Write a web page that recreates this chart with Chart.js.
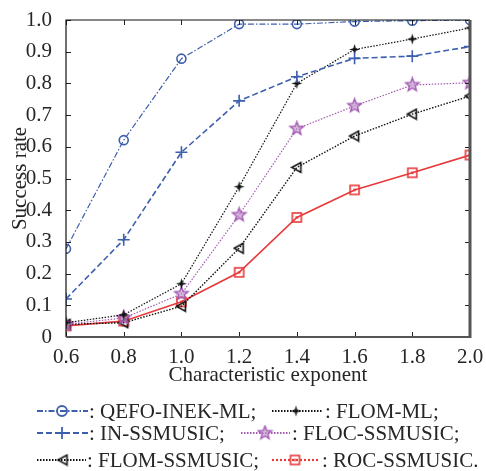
<!DOCTYPE html>
<html>
<head>
<meta charset="utf-8">
<script src="https://cdn.jsdelivr.net/npm/chart.js@4/dist/chart.umd.min.js"></script>
<style>
  html, body { margin: 0; padding: 0; background: #fff; }
  #wrap { width: 486px; height: 471px; position: relative; }
</style>
</head>
<body>
<div id="wrap"><canvas id="myChart" width="486" height="471"></canvas></div>
<script>
// data
const exponents = [0.6, 0.8, 1.0, 1.2, 1.4, 1.6, 1.8, 2.0];
const yTicks = [0, 0.1, 0.2, 0.3, 0.4, 0.5, 0.6, 0.7, 0.8, 0.9, 1.0];
const qefoInek = [0.278, 0.621, 0.878, 0.987, 0.987, 0.995, 0.998, 1.0];
const inSsmusic = [0.12, 0.307, 0.583, 0.745, 0.821, 0.879, 0.886, 0.916];
const flomMl = [0.045, 0.07, 0.168, 0.474, 0.80, 0.907, 0.94, 0.975];
const flocSsmusic = [0.04, 0.06, 0.136, 0.385, 0.657, 0.729, 0.795, 0.802];
const flomSsmusic = [0.04, 0.045, 0.097, 0.28, 0.535, 0.634, 0.703, 0.76];
const rocSsmusic = [0.035, 0.05, 0.111, 0.204, 0.377, 0.464, 0.518, 0.574];

const FONT = '"Liberation Serif", "Times New Roman", serif';
const BLUE = '#3d5fae';
const PURPLE = '#a35bb3';
const RED = '#e8393a';
const BLACK = '#111';
const TEXT = '#262626';

// small marker canvases
function makeMarker(size, drawFn) {
  const c = document.createElement('canvas');
  c.width = size; c.height = size;
  drawFn(c.getContext('2d'), size / 2);
  return c;
}
function starPath(g, c, n, ro, ri) {
  g.beginPath();
  for (let i = 0; i < n * 2; i++) {
    const r = i % 2 === 0 ? ro : ri;
    const a = -Math.PI / 2 + i * Math.PI / n;
    const px = c + r * Math.cos(a), py = c + r * Math.sin(a);
    if (i === 0) g.moveTo(px, py); else g.lineTo(px, py);
  }
  g.closePath();
}
const star4 = makeMarker(13, function(g, c) {
  starPath(g, c, 4, 5.5, 1.8);
  g.fillStyle = BLACK; g.fill();
});
const star5 = makeMarker(17, function(g, c) {
  starPath(g, c, 5, 7, 3);
  g.fillStyle = 'rgba(190,140,200,0.6)'; g.fill();
  g.strokeStyle = PURPLE; g.lineWidth = 1.4; g.stroke();
});
const triLeft = makeMarker(13, function(g, c) {
  g.beginPath();
  g.moveTo(c - 5, c); g.lineTo(c + 4, c - 5); g.lineTo(c + 4, c + 5); g.closePath();
  g.strokeStyle = BLACK; g.lineWidth = 1.6; g.stroke();
});
const sqDot = makeMarker(13, function(g, c) {
  g.strokeStyle = RED; g.lineWidth = 1.6;
  g.strokeRect(c - 4.5, c - 4.5, 9, 9);
  g.fillStyle = RED; g.fillRect(c - 1.2, c - 1.2, 2.4, 2.4);
});

function pts(arr) {
  return arr.map(function(v, i) { return { x: exponents[i], y: v }; });
}

const series = [
  { label: 'QEFO-INEK-ML;', data: qefoInek, color: BLUE, dash: [6, 2, 1.5, 2], width: 1.2, style: 'circle', radius: 4.5 },
  { label: 'IN-SSMUSIC;', data: inSsmusic, color: BLUE, dash: [6, 3], width: 1.6, style: 'cross', radius: 6 },
  { label: 'FLOM-ML;', data: flomMl, color: BLACK, dash: [1.5, 1.5], width: 1.2, style: star4, radius: 6 },
  { label: 'FLOC-SSMUSIC;', data: flocSsmusic, color: PURPLE, dash: [1.5, 1.5], width: 1.2, style: star5, radius: 7 },
  { label: 'FLOM-SSMUSIC;', data: flomSsmusic, color: BLACK, dash: [1.5, 1.5], width: 1.4, style: triLeft, radius: 6 },
  { label: 'ROC-SSMUSIC.', data: rocSsmusic, color: RED, dash: [], width: 1.6, style: sqDot, radius: 6 }
];

// box with inward ticks
const frame = {
  id: 'frame',
  afterDatasetsDraw(chart) {
    const g = chart.ctx, a = chart.chartArea;
    const xs = chart.scales.x, ys = chart.scales.y;
    g.save();
    g.strokeStyle = '#222'; g.lineWidth = 1;
    exponents.forEach(function(v) {
      const px = Math.round(xs.getPixelForValue(v)) + 0.5;
      g.beginPath(); g.moveTo(px, a.bottom); g.lineTo(px, a.bottom - 5); g.stroke();
      g.beginPath(); g.moveTo(px, a.top); g.lineTo(px, a.top + 5); g.stroke();
    });
    yTicks.forEach(function(v) {
      const py = Math.round(ys.getPixelForValue(v)) + 0.5;
      g.beginPath(); g.moveTo(a.left, py); g.lineTo(a.left + 5, py); g.stroke();
      g.beginPath(); g.moveTo(a.right, py); g.lineTo(a.right - 5, py); g.stroke();
    });
    g.strokeStyle = '#111'; g.lineWidth = 1.2;
    g.beginPath(); g.moveTo(a.left, a.bottom); g.lineTo(a.left, a.top); g.lineTo(a.right, a.top); g.stroke();
    g.strokeStyle = '#555'; g.lineWidth = 3;
    g.beginPath(); g.moveTo(a.right, a.top); g.lineTo(a.right, a.bottom + 1); g.stroke();
    g.lineWidth = 2;
    g.beginPath(); g.moveTo(a.left, a.bottom); g.lineTo(a.right, a.bottom); g.stroke();
    g.restore();
  }
};

// two-column legend under the axis title
const legendSpots = [
  { x0: 37, x1: 88, mx: 62, tx: 89, y: 411 },
  { x0: 37, x1: 88, mx: 62, tx: 89, y: 433 },
  { x0: 272, x1: 323, mx: 296, tx: 325, y: 411 },
  { x0: 241, x1: 290, mx: 265, tx: 292, y: 433 },
  { x0: 37, x1: 86, mx: 63, tx: 87, y: 460 },
  { x0: 272, x1: 320, mx: 295, tx: 322, y: 460 }
];
const legendOrder = [0, 1, 2, 3, 4, 5];
const pairLegend = {
  id: 'pairLegend',
  afterDraw(chart) {
    const g = chart.ctx;
    g.save();
    legendOrder.forEach(function(si, k) {
      const s = series[si], p = legendSpots[k];
      g.strokeStyle = s.color;
      g.lineWidth = s.width + 0.6;
      g.setLineDash(s.dash.length ? s.dash : [2, 2]);
      g.beginPath(); g.moveTo(p.x0, p.y); g.lineTo(p.x1, p.y); g.stroke();
      g.setLineDash([]);
      if (s.style === 'circle') {
        g.lineWidth = 1.8;
        g.beginPath(); g.arc(p.mx, p.y, 5, 0, Math.PI * 2); g.stroke();
      } else if (s.style === 'cross') {
        g.lineWidth = 1.8;
        g.beginPath(); g.moveTo(p.mx - 6, p.y); g.lineTo(p.mx + 6, p.y);
        g.moveTo(p.mx, p.y - 6); g.lineTo(p.mx, p.y + 6); g.stroke();
      } else {
        g.drawImage(s.style, p.mx - s.style.width / 2, p.y - s.style.height / 2);
      }
      g.fillStyle = TEXT;
      g.font = '21px ' + FONT;
      g.textBaseline = 'middle';
      g.fillText(': ' + s.label, p.tx, p.y + 1);
    });
    g.restore();
  }
};

const ctx = document.getElementById('myChart').getContext('2d');

const chart = new Chart(ctx, {
  type: 'line',
  data: {
    datasets: series.map(function(s) {
      return {
        label: s.label,
        data: pts(s.data),
        borderColor: s.color,
        backgroundColor: s.color,
        borderWidth: s.width,
        borderDash: s.dash,
        pointStyle: s.style,
        pointRadius: s.radius,
        pointBorderColor: s.color,
        pointBackgroundColor: 'rgba(0,0,0,0)',
        pointBorderWidth: 1.6,
        tension: 0,
        fill: false
      };
    })
  },
  options: {
    responsive: false,
    animation: false,
    layout: { padding: { left: 0, right: 16, top: 20, bottom: 83 } },
    plugins: {
      legend: { display: false },
      tooltip: { enabled: false }
    },
    scales: {
      x: {
        type: 'linear',
        min: 0.6, max: 2.0,
        afterBuildTicks(scale) { scale.ticks = exponents.map(function(v) { return { value: v }; }); },
        afterFit(scale) { scale.height = 51; },
        grid: { display: false },
        border: { display: false },
        ticks: {
          color: TEXT, font: { family: FONT, size: 21 }, padding: 0, maxRotation: 0,
          callback: function(v) { return Number(v).toFixed(1); }
        },
        title: {
          display: true, text: 'Characteristic exponent', color: TEXT,
          font: { family: FONT, size: 21 }, padding: { top: 3, bottom: 0 }
        }
      },
      y: {
        min: 0, max: 1,
        afterBuildTicks(scale) { scale.ticks = yTicks.map(function(v) { return { value: v }; }); },
        afterFit(scale) { scale.width = 66; },
        grid: { display: false },
        border: { display: false },
        ticks: {
          color: TEXT, font: { family: FONT, size: 21 }, padding: 6,
          callback: function(v) { return v === 0 ? '0' : Number(v).toFixed(1); }
        },
        title: {
          display: true, text: 'Success rate', color: TEXT,
          font: { family: FONT, size: 21 }, padding: { top: 8, bottom: 0 }
        }
      }
    }
  },
  plugins: [frame, pairLegend]
});
</script>
</body>
</html>
